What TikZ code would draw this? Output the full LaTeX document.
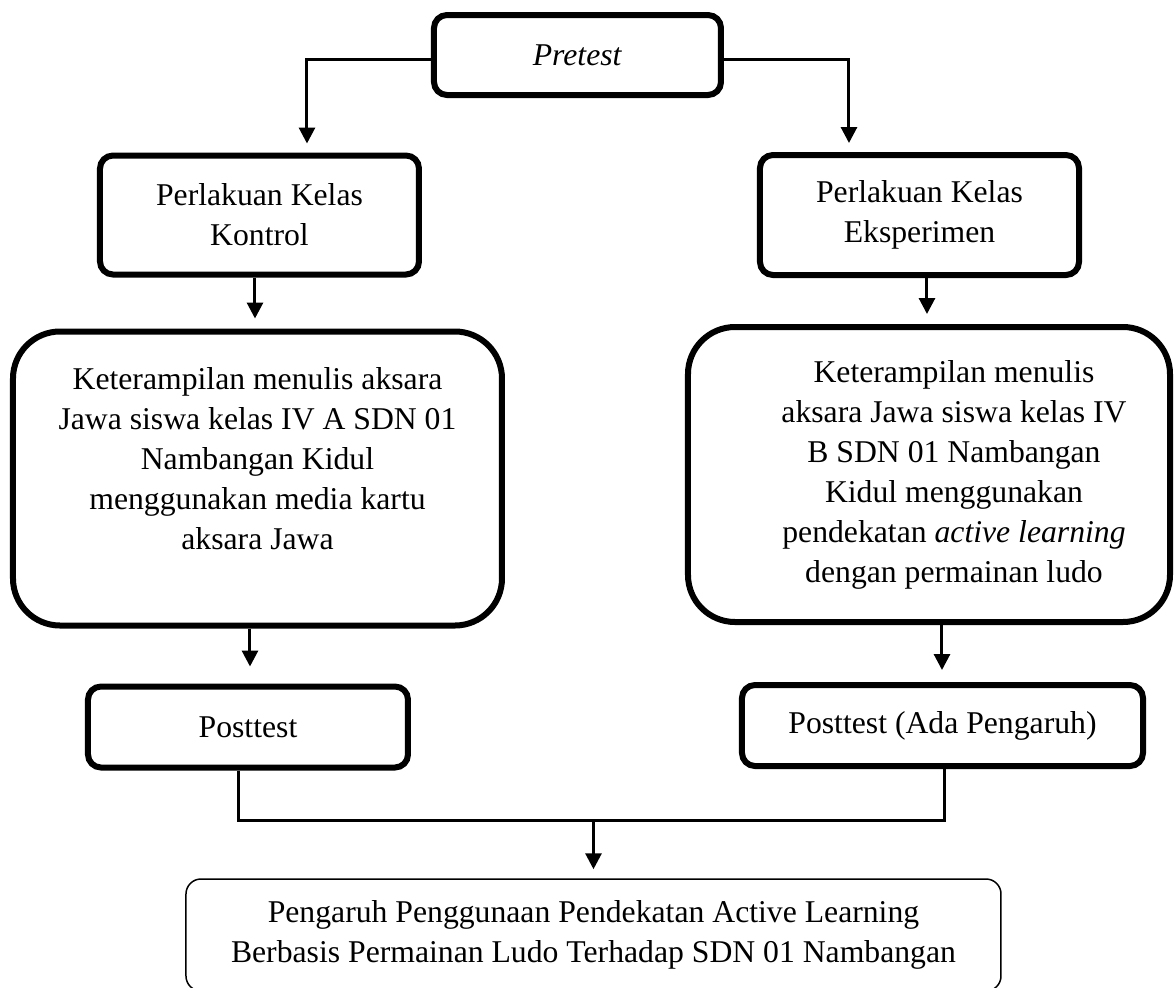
\documentclass[tikz,border=0pt]{standalone}
\usepackage{fontspec}
\setmainfont{Liberation Serif}
\usepackage{tikz}
\usetikzlibrary{shapes.geometric, arrows.meta}

\begin{document}
\begin{tikzpicture}[
    node distance=80pt,
    every node/.style={font=\fontsize{15.85}{20}\selectfont},
    block/.style={rectangle, draw, line width=3pt, rounded corners=6.5pt, align=center},
    bigbox/.style={block, rounded corners=23.5pt},
    endbox/.style={block, line width=0.75pt, rounded corners=7.5pt},
    wire/.style={draw, line width=1.5pt},
    line/.style={wire, -{Triangle[length=8pt, width=8pt]}}
]
\useasboundingbox (-288.75pt,27.5pt) rectangle (298.25pt,-466pt);

\node [block, minimum width=143.5pt, minimum height=40pt] (pretest) {\textit{Pretest}};
\node [block, below of=pretest, xshift=-159pt, minimum width=159.5pt, minimum height=59.5pt] (kontrol) {Perlakuan Kelas\\ Kontrol};
\node [block, below of=pretest, xshift=171pt, minimum width=159.5pt, minimum height=60pt] (eksperimen) {Perlakuan Kelas\\ Eksperimen};
\node [bigbox, below of=kontrol, node distance=131.75pt, xshift=-1pt, minimum width=244.5pt, minimum height=147pt] (kontrolmedia) {Keterampilan menulis aksara\\ Jawa siswa kelas IV A SDN 01\\ Nambangan Kidul\\ menggunakan media kartu\\ aksara Jawa\\ \mbox{}};
\node [bigbox, below of=eksperimen, node distance=129.75pt, xshift=4.75pt, minimum width=241pt, minimum height=147.5pt] (eksmedia) {\hspace*{25pt}\begin{tabular}{@{}c@{}}Keterampilan menulis\\ aksara Jawa siswa kelas IV\\ B SDN 01 Nambangan\\ Kidul menggunakan\\ pendekatan \textit{active learning}\\ dengan permainan ludo\end{tabular}};
\node [block, below of=kontrolmedia, node distance=124.25pt, xshift=-4.75pt, minimum width=160pt, minimum height=40.5pt] (postkontrol) {Posttest};
\node [block, below of=eksmedia, node distance=125.5pt, xshift=6.75pt, minimum width=200.5pt, minimum height=40.5pt] (posteks) {Posttest (Ada Pengaruh)};
\node [endbox, below of=pretest, node distance=440pt, xshift=8pt, minimum width=407.5pt, minimum height=56pt] (hasil) {Pengaruh Penggunaan Pendekatan Active Learning\\ Berbasis Permainan Ludo Terhadap SDN 01 Nambangan};
\coordinate (merge) at ([yshift=29pt]hasil.north);

\path [line, shorten >=4.5pt] ([yshift=-2pt]pretest.west) -| ([xshift=23.75pt]kontrol.north);
\path [line, shorten >=4.5pt] ([yshift=-2pt]pretest.east) -| ([xshift=-35.25pt]eksperimen.north);
\path [line, shorten >=5pt] ([xshift=-2.25pt]kontrol.south) -- ([xshift=-2.25pt]kontrol.south |- kontrolmedia.north);
\path [line, shorten >=5pt] ([xshift=3.75pt]eksperimen.south) -- ([xshift=3.75pt]eksperimen.south |- eksmedia.north);
\path [line, shorten >=8.5pt] ([xshift=-3.75pt]kontrolmedia.south) -- ([xshift=-3.75pt]kontrolmedia.south |- postkontrol.north);
\path [line, shorten >=6pt] ([xshift=6.5pt]eksmedia.south) -- ([xshift=6.5pt]eksmedia.south |- posteks.north);
\path [wire] ([xshift=-4.5pt]postkontrol.south) |- (merge) -| ([xshift=1.25pt]posteks.south);
\path [line, shorten >=4.5pt] (merge) -- (hasil);
\end{tikzpicture}
\end{document}
